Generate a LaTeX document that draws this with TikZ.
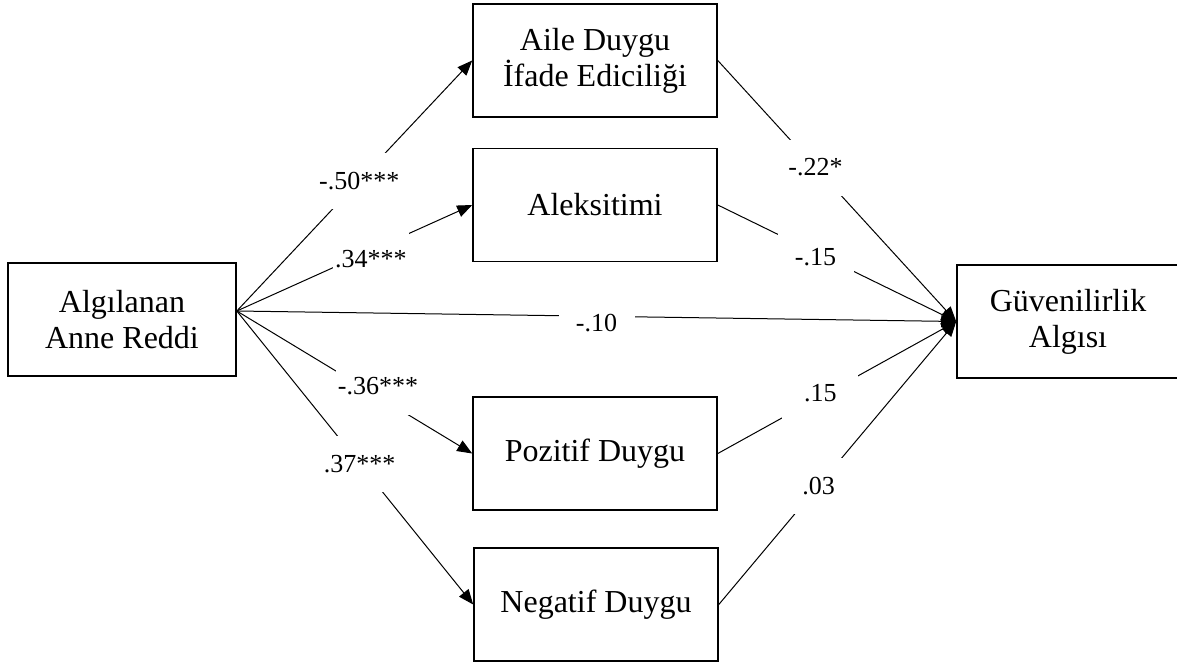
\documentclass[tikz,border=0pt]{standalone}
\usepackage{fontspec}
\setmainfont{Liberation Serif}
\usetikzlibrary{arrows.meta}

\begin{document}
\begin{tikzpicture}[x=1pt, y=-1pt,
		caixa/.style={draw, line width=1.6pt, minimum height=113pt, align=center, inner sep=0pt, font=\fontsize{32}{36}\selectfont},
		seta/.style={line width=1pt, -{Triangle[length=15pt, width=12pt]}},
		coef/.style={fill=white, inner sep=2pt, minimum width=76pt, minimum height=56pt, font=\fontsize{26}{30}\selectfont}]
			\useasboundingbox (0,0) rectangle (1177,664);
			% Variáveis
			\node[caixa, minimum width=228pt] (anne) at (122,319.5) {Algılanan\\Anne Reddi};
			\node[caixa, minimum width=244pt] (aile) at (595,60.5) {Aile Duygu\\İfade Ediciliği};
			\node[caixa, minimum width=244pt] (aleks) at (595,205) {Aleksitimi};
			\node[caixa, minimum width=244pt] (pozitif) at (595,453.5) {Pozitif Duygu};
			\node[caixa, minimum width=244pt] (negatif) at (596,604.5) {Negatif Duygu};
			\node[caixa, minimum width=222pt] (guven) at (1068,321.5) {Güvenilirlik\\Algısı};
			% Caminhos a partir do preditor
			\coordinate (origem) at ([yshift=8.5pt]anne.east);
			\draw[seta] (origem) -- node[coef, pos=0.52] {-.50***} (aile.west);
			\draw[seta] (origem) -- node[coef, pos=0.57, yshift=-8pt] {.34***} (aleks.west);
			\draw[seta] (origem) -- node[coef, pos=0.6, yshift=10pt] {-.36***} (pozitif.west);
			\draw[seta] (origem) -- node[coef, pos=0.52] {.37***} (negatif.west);
			\draw[seta] (origem) -- node[coef, pos=0.5, yshift=-7pt] {-.10} (guven.west);
			% Caminhos para o desfecho
			\draw[seta] (aile.east) -- node[coef, pos=0.41] {-.22*} (guven.west);
			\draw[seta] (aleks.east) -- node[coef, pos=0.41, yshift=-4pt] {-.15} (guven.west);
			\draw[seta] (pozitif.east) -- node[coef, pos=0.43, yshift=4pt] {.15} (guven.west);
			\draw[seta] (negatif.east) -- node[coef, pos=0.42] {.03} (guven.west);
		\end{tikzpicture}
\end{document}
